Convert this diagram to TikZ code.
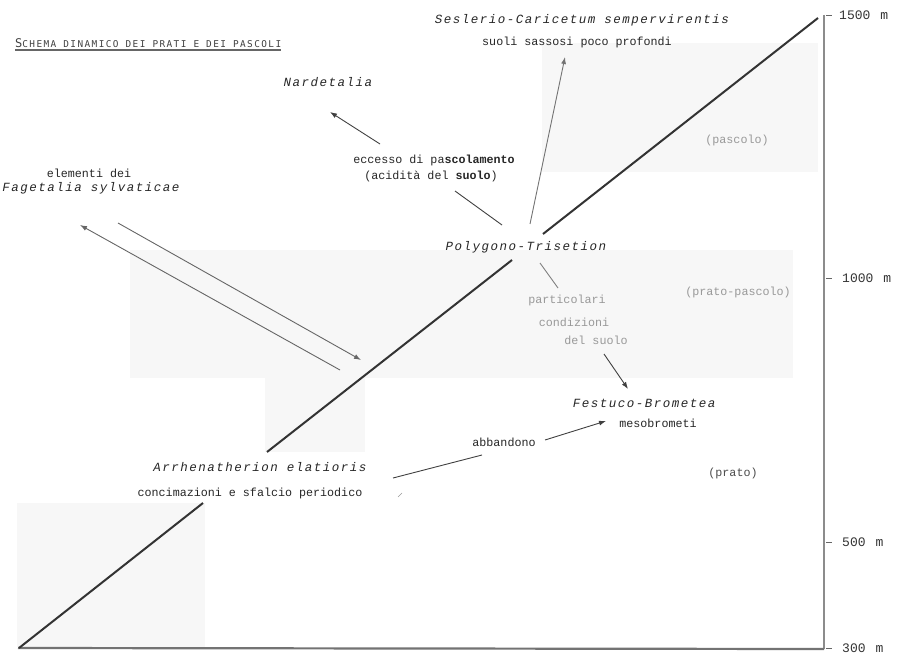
\documentclass[tikz,border=0pt]{standalone}
\usepackage{fontspec}
\setmonofont{Liberation Mono}
\newfontfamily\spit[LetterSpace=12]{Liberation Mono}
\newfontfamily\titlefont[LetterSpace=15]{DejaVu Sans Mono}
\usetikzlibrary{arrows.meta}
\tikzset{
  lbl/.style={inner sep=0pt, font=\fontsize{11.7}{14}\selectfont\ttfamily, text=black!85},
  sp/.style={inner sep=0pt, font=\fontsize{12.5}{15}\selectfont\spit\itshape, text=black!85},
  faint/.style={lbl, text=black!40},
  axlbl/.style={inner sep=0pt, anchor=west, font=\fontsize{13}{15}\selectfont\ttfamily, text=black!80},
  conn/.style={draw=black!75, line width=0.9pt},
  arr/.style={conn, -{Latex[length=7pt,width=5pt]}},
  diag/.style={draw=black!80, line width=2pt},
  zone/.style={fill=black!3, draw=none},
  tick/.style={draw=black!60, line width=0.8pt},
}
\begin{document}
\begin{tikzpicture}[x=1pt,y=-1pt]
\useasboundingbox (0,0) rectangle (901,655);
% shaded zones
\fill[zone] (542,43) rectangle (818,172);
\fill[zone] (130,250) rectangle (793,378);
\fill[zone] (265,378) rectangle (365,452);
\fill[zone] (17,503) rectangle (205,647);
% axes
\coordinate (axtop) at (824,15);
\coordinate (axbot) at (824,649);
\coordinate (base0) at (18,648);
\draw[draw=black!45, line width=2pt] (axtop) -- (axbot);
\draw[draw=black!55, line width=2.2pt] (base0) -- (axbot);
% ticks and labels
\coordinate (t1500) at (826,15);
\coordinate (t1000) at (826,278);
\coordinate (t500) at (826,542);
\coordinate (t300) at (826,648);
\draw[tick] (t1500) -- ++(6,0);
\draw[tick] (t1000) -- ++(6,0);
\draw[tick] (t500) -- ++(6,0);
\draw[tick] (t300) -- ++(6,0);
\node[axlbl] (l1500) at (839,15) {1500\hspace{10pt}m};
\node[axlbl] (l1000) at (842,278) {1000\hspace{10pt}m};
\node[axlbl] (l500) at (842,542) {500\hspace{10pt}m};
\node[axlbl] (l300) at (842,648) {300\hspace{10pt}m};
% diagonal
\coordinate (d0) at (19,648);
\coordinate (d1) at (203,503);
\coordinate (d2) at (267,452);
\coordinate (d3) at (512,260);
\coordinate (d4) at (543,234);
\coordinate (d5) at (818,18);
\draw[diag] (d0) -- (d1);
\draw[diag] (d2) -- (d3);
\draw[diag] (d4) -- (d5);
% title
\node[inner sep=0pt, anchor=west, text=black!75] (title) at (15,43)
  {\titlefont\fontsize{12}{13}\selectfont S\fontsize{9.4}{11}\selectfont CHEMA DINAMICO DEI PRATI E DEI PASCOLI};
\draw[draw=black!60, line width=1.3pt] (title.west |- 0,50) -- (title.east |- 0,50);
% texts
\node[sp] (ses) at (582,20) {Seslerio-Caricetum sempervirentis};
\node[lbl] (suoli) at (577,42) {suoli sassosi poco profondi};
\node[sp] (nard) at (328,82) {Nardetalia};
\node[lbl] (ecc) at (434,160) {eccesso di pa\textbf{scolamento}};
\node[lbl] (acid) at (431,176) {(acidità del \textbf{suolo})};
\node[lbl] (elem) at (89,173) {elementi dei};
\node[sp] (fag) at (91,188) {Fagetalia sylvaticae};
\node[sp] (poly) at (526,247) {Polygono-Trisetion};
\node[faint] (part) at (567,300) {particolari};
\node[faint] (cond) at (574,322) {condizioni};
\node[faint] (dels) at (596,340) {del suolo};
\node[faint] (pasc) at (737,140) {(pascolo)};
\node[faint] (pp) at (738,292) {(prato-pascolo)};
\node[sp] (fest) at (644,403) {Festuco-Brometea};
\node[lbl] (meso) at (658,423) {mesobrometi};
\node[lbl] (abb) at (504,442) {abbandono};
\node[lbl, text=black!70] (prato) at (733,473) {(prato)};
\node[sp] (arrh) at (260,467) {Arrhenatherion elatioris};
\node[lbl] (conc) at (250,493) {concimazioni e sfalcio periodico};
% connectors
\coordinate (n1) at (380,144);
\coordinate (n2) at (330,112);
\draw[arr] (n1) -- (n2);
\coordinate (e1) at (502,225);
\coordinate (e2) at (455,191);
\draw[conn] (e1) -- (e2);
\coordinate (s1) at (530,224);
\coordinate (s2) at (565,57);
\draw[arr, draw=black!55] (s1) -- (s2);
\coordinate (fa1) at (340,370);
\coordinate (fa2) at (80,225);
\draw[arr, draw=black!60] (fa1) -- (fa2);
\coordinate (fb1) at (118,223);
\coordinate (fb2) at (361,360);
\draw[arr, draw=black!60] (fb1) -- (fb2);
\coordinate (p1) at (540,263);
\coordinate (p2) at (558,288);
\draw[conn, draw=black!50] (p1) -- (p2);
\coordinate (ds1) at (604,354);
\coordinate (ds2) at (628,389);
\draw[arr] (ds1) -- (ds2);
\coordinate (ab1) at (545,440);
\coordinate (ab2) at (606,421);
\draw[arr] (ab1) -- (ab2);
\coordinate (ar1) at (393,478);
\coordinate (ar2) at (482,455);
\draw[conn] (ar1) -- (ar2);
\coordinate (st1) at (398,497);
\coordinate (st2) at (402,493);
\draw[draw=black!40, line width=0.6pt] (st1) -- (st2);
\end{tikzpicture}
\end{document}
